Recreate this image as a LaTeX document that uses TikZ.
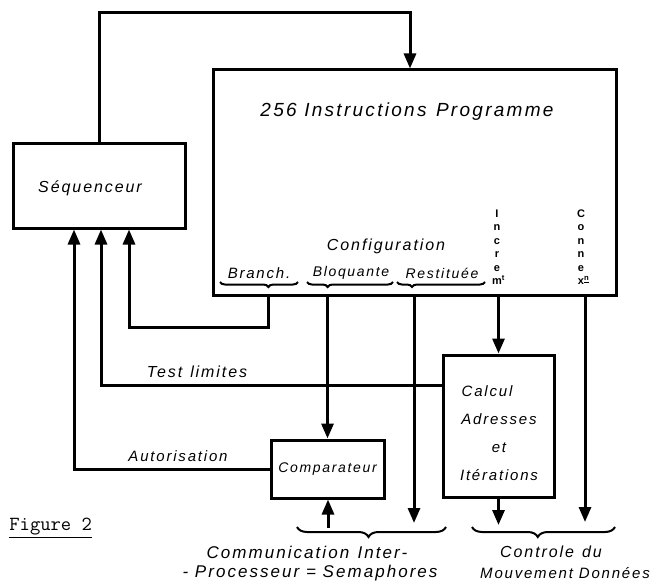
\documentclass[tikz,border=0pt]{standalone}
\usepackage{fontspec}
\setmainfont{Liberation Sans}
\newfontfamily\hand[LetterSpace=12]{Liberation Sans}
\usetikzlibrary{arrows.meta,decorations.pathreplacing}

\begin{document}
\begin{tikzpicture}[x=1pt, y=-1pt,
  box/.style={draw, line width=3pt, inner sep=0pt},
  wire/.style={line width=3pt},
  arr/.style={wire, -{Triangle[width=12pt,length=15pt]}},
  hw/.style={font=\hand\itshape\fontsize{#1}{#1}\selectfont, inner sep=0pt},
  hw/.default=14,
  letters/.style={font=\hand\bfseries\fontsize{11}{13.5}\selectfont, align=center, inner sep=0pt},
  brc/.style={line width=2pt, decorate, decoration={brace, mirror, amplitude=#1}},
  brc/.default=5pt]
  \useasboundingbox (0,0) rectangle (653,588);

  % boxes
  \node[box, minimum width=172pt, minimum height=84pt] (seq) at (99,186) {};
  \node[hw=16] (seqtxt) at (90,188) {Séquenceur};
  \node[box, minimum width=403pt, minimum height=225pt] (prog) at (414.5,182.5) {};
  \node[box, minimum width=111pt, minimum height=142pt] (calc) at (498.5,426) {};
  \node[box, minimum width=113pt, minimum height=58pt, hw=14] (comp) at (327.5,469) {Comparateur};

  % texts in the programme box
  \node[hw=19] (title) at (407,112) {256 Instructions\enspace Programme};
  \node[hw=16] (config) at (386,246) {Configuration};
  \node[hw=15] (branch) at (259,273) {Branch.};
  \node[hw=14] (bloq) at (351,273) {Bloquante};
  \node[hw=14] (rest) at (442,273) {Restituée};
  \node[letters] (incr) at (497,247) {I\\n\\c\\r\\e\\m\rlap{\textsuperscript{t}}};
  \node[letters] (cnx) at (581,247) {C\\o\\n\\n\\e\\x\rlap{\textsuperscript{\underline{n}}}};
  \draw[brc, decoration={aspect=0.62}] (220,282) -- (298,282);
  \draw[brc, decoration={aspect=0.24}] (307,282) -- (393,282);
  \draw[brc, decoration={aspect=0.17}] (397,282) -- (485,282);

  \node[align=center, inner sep=0pt, font=\hand\itshape\fontsize{15}{28}\selectfont] (calctxt) at (499,433)
    {Calcul\hspace*{1.6em}\\Adresses\\et\\Itérations};

  % connectors
  \coordinate (loop) at (410,13);
  \coordinate (inA) at (74,0);
  \coordinate (inB) at (101,0);
  \coordinate (inC) at (129,0);
  \coordinate (brk) at (268,327);
  \coordinate (tl) at (101,385);
  \coordinate (restend) at (414,523);
  \coordinate (cxend) at (585,522);
  \coordinate (calcend) at (497,525);
  \coordinate (compin) at (328,528);

  \draw[arr] (seq.north) |- (loop) -- (loop |- prog.north);
  \draw[arr] (brk |- prog.south) -- (brk) -| (inC |- seq.south);
  \draw[arr] (tl -| calc.west) -- (tl) -- (tl |- seq.south);
  \draw[arr] (comp.west) -| (inA |- seq.south);
  \draw[arr] (comp.north |- prog.south) -- (comp.north);
  \draw[arr] (restend |- prog.south) -- (restend);
  \draw[arr] (calc.north |- prog.south) -- (calc.north);
  \draw[arr] (cxend |- prog.south) -- (cxend);
  \draw[arr] (calc.south) -- (calc.south |- calcend);
  \draw[arr] (compin) -- (compin |- comp.south);

  \node[hw=16] (testlbl) at (197,372) {Test\enspace limites};
  \node[hw=15] (autlbl) at (178,456) {Autorisation};

  % outputs
  \draw[brc=10pt, decoration={aspect=0.48}] (297,527) -- (446,527);
  \draw[brc=10pt, decoration={aspect=0.46}] (472,527) -- (615,527);
  \node[hw=17] (comm1) at (307,552) {Communication\enspace Inter-};
  \node[hw=17] (comm2) at (310,573) {- Processeur = Semaphores};
  \node[hw=16] (ctrl1) at (551,552) {Controle\enspace du};
  \node[hw=15, anchor=east] (ctrl2) at (650,573) {Mouvement Données};

  \node[font=\ttfamily\fontsize{20}{20}\selectfont, anchor=east, inner sep=0pt] (fig) at (92,528) {\underline{Figure 2}};
\end{tikzpicture}
\end{document}
